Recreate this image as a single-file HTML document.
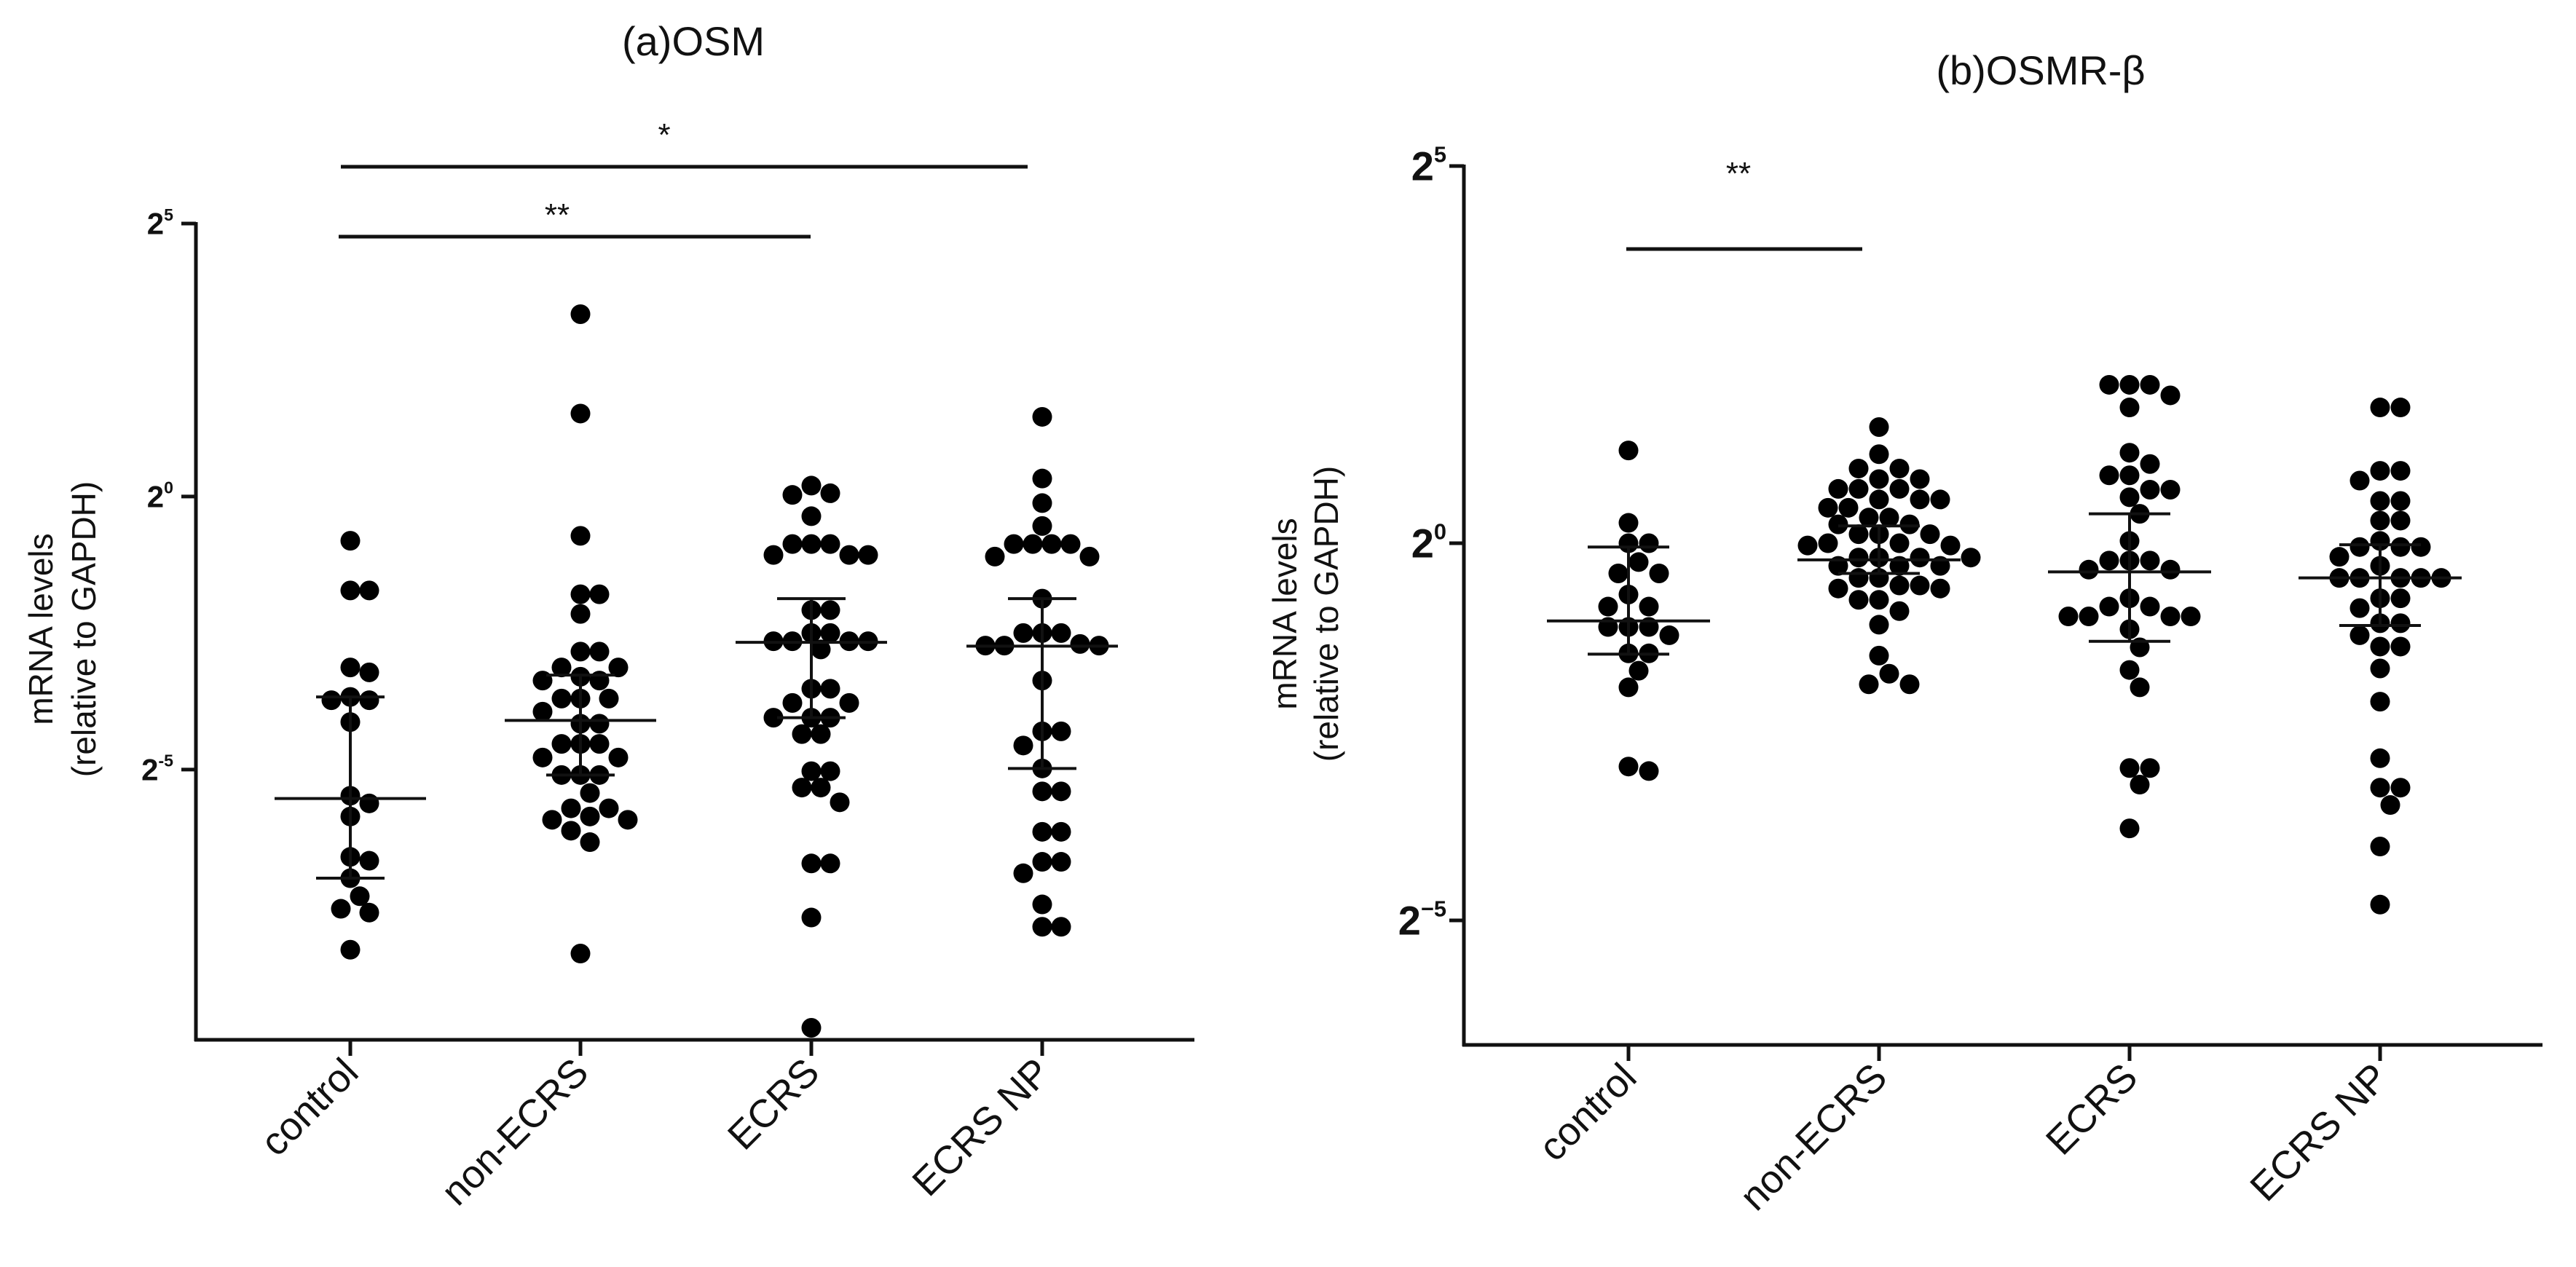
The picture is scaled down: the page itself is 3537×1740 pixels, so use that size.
<!DOCTYPE html>
<html><head><meta charset="utf-8"><style>
html,body{margin:0;padding:0;background:#fff}
svg{display:block}
text{font-family:"Liberation Sans",sans-serif;fill:#111}
</style></head><body>
<svg id="chart" width="3537" height="1740" viewBox="0 0 3537 1740" xmlns="http://www.w3.org/2000/svg">
<g id="panelA"></g>
<g id="panelB"></g>
</svg>
<script>
// ---- data (log2 values) ----
const categories = ["control","non-ECRS","ECRS","ECRS NP"];
const osmControl = [-0.81,-1.72,-1.72,-3.13,-3.22,-3.67,-3.73,-3.73,-4.13,-5.48,-5.62,-5.86,-6.6,-6.67,-6.99,-7.32,-7.55,-7.62,-8.3];
const osmNonEcrs = [3.34,1.52,-0.72,-1.79,-1.79,-2.15,-2.84,-2.84,-3.13,-3.13,-3.3,-3.37,-3.37,-3.7,-3.7,-3.7,-3.94,-4.16,-4.16,-4.53,-4.53,-4.53,-4.78,-4.78,-5.1,-5.1,-5.1,-5.43,-5.71,-5.71,-5.86,-5.92,-5.92,-6.12,-6.33,-8.37];
const osmEcrs = [0.2,0.06,0.03,-0.36,-0.87,-0.87,-0.87,-1.07,-1.07,-1.07,-2.08,-2.08,-2.5,-2.5,-2.65,-2.65,-2.65,-2.65,-2.8,-3.52,-3.52,-3.78,-3.78,-4.05,-4.05,-4.05,-4.35,-4.35,-5.03,-5.03,-5.33,-5.33,-5.6,-6.72,-6.72,-7.71,-9.73];
const osmEcrsNp = [1.46,0.33,-0.12,-0.54,-0.87,-0.87,-0.87,-0.87,-1.1,-1.1,-1.87,-2.5,-2.5,-2.5,-2.7,-2.73,-2.73,-2.73,-3.37,-4.3,-4.3,-4.56,-4.98,-5.4,-5.4,-6.14,-6.14,-6.69,-6.69,-6.9,-7.47,-7.88,-7.88];
const osmMedian = [-5.53,-4.1,-2.67,-2.74];
const osmQ1 = [-6.99,-5.1,-4.05,-4.98];
const osmQ3 = [-3.67,-3.27,-1.87,-1.87];

const osmrControl = [1.23,0.27,0.0,0.0,-0.25,-0.4,-0.4,-0.68,-0.84,-0.84,-1.11,-1.11,-1.11,-1.22,-1.46,-1.46,-1.69,-1.91,-2.96,-3.02];
const osmrNonEcrs = [1.54,1.18,0.99,0.99,0.85,0.85,0.72,0.72,0.72,0.58,0.58,0.58,0.47,0.47,0.34,0.34,0.25,0.25,0.12,0.12,0.12,0.0,0.0,-0.03,-0.03,-0.19,-0.19,-0.19,-0.19,-0.3,-0.3,-0.3,-0.46,-0.46,-0.56,-0.56,-0.6,-0.6,-0.75,-0.75,-0.9,-1.08,-1.49,-1.73,-1.87,-1.87];
const osmrEcrs = [2.1,2.1,2.1,1.96,1.8,1.2,1.05,0.9,0.9,0.71,0.71,0.61,0.39,0.03,-0.23,-0.23,-0.23,-0.35,-0.35,-0.73,-0.84,-0.84,-0.97,-0.97,-0.97,-0.97,-1.14,-1.38,-1.68,-1.91,-2.98,-2.98,-3.2,-3.78];
const osmrEcrsNp = [1.8,1.8,0.96,0.96,0.83,0.56,0.56,0.3,0.3,0.03,-0.05,-0.05,-0.05,-0.18,-0.3,-0.46,-0.46,-0.46,-0.46,-0.46,-0.73,-0.73,-0.86,-1.06,-1.06,-1.22,-1.37,-1.37,-1.66,-2.1,-2.85,-3.24,-3.24,-3.47,-4.02,-4.79];
const osmrMedian = [-1.03,-0.22,-0.38,-0.46];
const osmrQ1 = [-1.47,-0.4,-1.3,-1.09];
const osmrQ3 = [-0.05,0.23,0.39,-0.02];

const NS="http://www.w3.org/2000/svg";
function mk(parent,tag,attrs,txt){const e=document.createElementNS(NS,tag);for(const k in attrs)e.setAttribute(k,attrs[k]);if(txt!==undefined)e.textContent=txt;parent.appendChild(e);return e;}

function swarm(vals,yf,r,step){
  const sorted=vals.slice().sort((a,b)=>b-a);const placed=[];
  sorted.forEach(v=>{const y=yf(v);let best=0;
    for(let k=0;k<40;k++){const cands=k===0?[0]:[k*step/2,-k*step/2];let found=null;
      for(const o of cands){if(placed.every(p=>Math.hypot(p[0]-o,p[1]-y)>=2*r*0.96)){found=o;break;}}
      if(found!==null){best=found;break;}}
    placed.push([best,y]);});
  return placed;
}

function panel(g,cfg){
  const {x0,x1,yTop,yBot,vTop,vBot,catX,groups,med,q1,q3,r,medHalf,capHalf}=cfg;
  const y=v=>yTop+(vTop-v)*(yBot-yTop)/(vTop-vBot);
  const ax=mk(g,'line',{x1:x0,y1:y(vTop)-2,x2:x0,y2:yBot+2,stroke:'#111','stroke-width':5});
  
  const xa=mk(g,'line',{x1:x0-2,y1:yBot,x2:x1,y2:yBot,stroke:'#111','stroke-width':5});
  
  cfg.ticks.forEach((t,i)=>{
    const tk=mk(g,'line',{x1:x0-20,y1:y(t),x2:x0,y2:y(t),stroke:'#111','stroke-width':5});
    
    const tl=mk(g,'text',{x:cfg.tickLabelX,y:y(t)+cfg.tickFs*0.35,'text-anchor':'end','font-size':cfg.tickFs,'font-weight':'bold','font-family':cfg.tickFont});
    
    mk(tl,'tspan',{},'2');
    mk(tl,'tspan',{'font-size':cfg.tickFs*0.55,dy:-cfg.tickFs*0.45},cfg.tickLabels[i]);
  });
  categories.forEach((c,i)=>{
    const cx=catX[i];
    const tk=mk(g,'line',{x1:cx,y1:yBot,x2:cx,y2:yBot+22,stroke:'#111','stroke-width':5});
    
    const lx=cx+14,ly=yBot+48;
    const tl=mk(g,'text',{x:lx,y:ly,'text-anchor':'end','font-size':54,transform:`rotate(-45 ${lx} ${ly})`},c);
    
    const gg=mk(g,'g',{});
    
    
    swarm(groups[i],y,r,cfg.step).forEach(p=>{
      const d=mk(gg,'circle',{cx:cx+p[0],cy:p[1],r:r,fill:'#000'});
      
      
    });
    const m=mk(gg,'line',{x1:cx-medHalf,y1:y(med[i]),x2:cx+medHalf,y2:y(med[i]),stroke:'#111','stroke-width':4});
    
    const e=mk(gg,'line',{x1:cx,y1:y(q3[i]),x2:cx,y2:y(q1[i]),stroke:'#111','stroke-width':4});
    
    [q1[i],q3[i]].forEach(q=>{const cp=mk(gg,'line',{x1:cx-capHalf,y1:y(q),x2:cx+capHalf,y2:y(q),stroke:'#111','stroke-width':4});
      });
  });
}

const A=document.getElementById('panelA');
panel(A,{x0:269,x1:1640,yTop:307,yBot:1428,vTop:5,vBot:-9.95,catX:[481,797,1114,1431],
  groups:[osmControl,osmNonEcrs,osmEcrs,osmEcrsNp],med:osmMedian,q1:osmQ1,q3:osmQ3,
  r:13.5,step:26,medHalf:104,capHalf:47,ticks:[5,0,-5],tickLabels:['5','0','-5'],tickLabelX:238,tickFs:42,tickFont:'"Liberation Sans",sans-serif'});
const B=document.getElementById('panelB');
panel(B,{x0:2010,x1:3491,yTop:228,yBot:1435,vTop:5,vBot:-6.65,catX:[2236,2580,2924,3268],
  groups:[osmrControl,osmrNonEcrs,osmrEcrs,osmrEcrsNp],med:osmrMedian,q1:osmrQ1,q3:osmrQ3,
  r:13.5,step:28,medHalf:112,capHalf:56,ticks:[5,0,-5],tickLabels:['5','0','−5'],tickLabelX:1986,tickFs:56,tickFont:'"Liberation Serif",serif'});

function txt(g,name,attrs,s){const t=mk(g,'text',attrs,s);return t;}
txt(A,'chart-title',{x:952,y:76,'text-anchor':'middle','font-size':56},'(a)OSM');
txt(B,'chart-title',{x:2802,y:116,'text-anchor':'middle','font-size':56},'(b)OSMR-β');
txt(A,'y-axis-title',{x:0,y:0,'text-anchor':'middle','font-size':46,transform:'translate(72 864) rotate(-90)'},'mRNA levels');
txt(A,'y-axis-subtitle',{x:0,y:0,'text-anchor':'middle','font-size':46,transform:'translate(131 864) rotate(-90)'},'(relative to GAPDH)');
txt(B,'y-axis-title',{x:0,y:0,'text-anchor':'middle','font-size':46,transform:'translate(1780 843) rotate(-90)'},'mRNA levels');
txt(B,'y-axis-subtitle',{x:0,y:0,'text-anchor':'middle','font-size':46,transform:'translate(1837 843) rotate(-90)'},'(relative to GAPDH)');
// significance bars
function sig(g,x1,x2,yl,label,ly,lx){
  const l=mk(g,'line',{x1:x1,y1:yl,x2:x2,y2:yl,stroke:'#111','stroke-width':5});
  
  txt(g,'significance-label',{x:lx,y:ly,'text-anchor':'middle','font-size':44},label);
}
sig(A,468,1411,229,'*',200,912);
sig(A,465,1113,325,'**',310,765);
sig(B,2233,2557,342,'**',253,2387);
</script>
</body></html>
